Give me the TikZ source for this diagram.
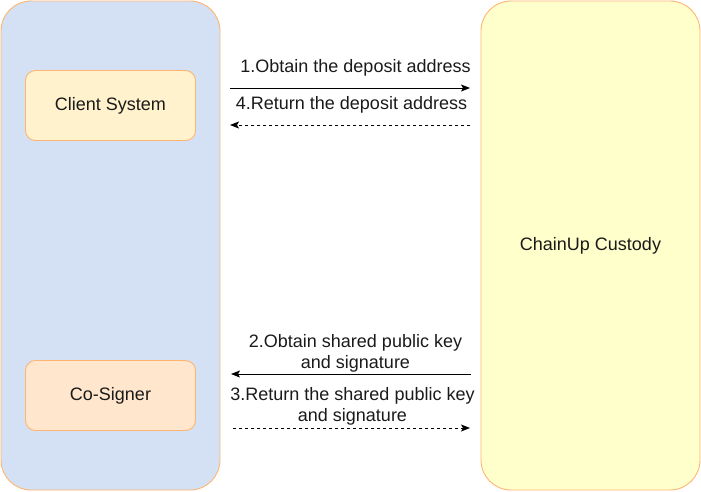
\documentclass[tikz,border=0pt]{standalone}
\usepackage{fontspec}
\setmainfont{Liberation Sans}
\usetikzlibrary{arrows.meta}
\definecolor{lanefill}{HTML}{D4E1F5}
\definecolor{custfill}{HTML}{FFFFCC}
\definecolor{edgeorange}{HTML}{FFB570}
\definecolor{clientfill}{HTML}{FFF2CC}
\definecolor{signerfill}{HTML}{FFE6CC}
\definecolor{txt}{HTML}{1A1A1A}
\tikzset{
  lane/.style={draw=edgeorange, line width=0.9pt, rounded corners=30pt, minimum width=219pt, minimum height=489pt, inner sep=0pt},
  sysbox/.style={draw=edgeorange, line width=0.9pt, rounded corners=10pt, minimum width=170pt, minimum height=70pt, inner sep=0pt, text=txt},
  lbl/.style={text=txt, align=center, inner sep=0pt},
  flow/.style={line width=0.9pt, -{Stealth[length=9pt,width=7pt,inset=2pt]}},
  retflow/.style={flow, dash pattern=on 3pt off 3pt},
  every node/.style={font=\fontsize{18}{21}\selectfont}
}
\begin{document}
\begin{tikzpicture}[x=1pt,y=-1pt]
\useasboundingbox (0,0) rectangle (701,491);
\node[lane, fill=lanefill] (left) at (110.5,245.5) {};
\node[lane, fill=custfill] (cust) at (590.5,245.5) {};
\node[lbl] (custtext) at (590.5,246) {ChainUp Custody};
\node[sysbox, fill=clientfill] (client) at (110.5,105.5) {Client System};
\node[sysbox, fill=signerfill] (signer) at (110.5,395.5) {Co-Signer};
% arrow end points
\coordinate (a1s) at (230,88);   \coordinate (a1e) at (470,88);
\coordinate (a4s) at (470,125);  \coordinate (a4e) at (230,125);
\coordinate (a2s) at (471,374);  \coordinate (a2e) at (231,374);
\coordinate (a3s) at (233,428);  \coordinate (a3e) at (470,428);
\draw[flow] (a1s) -- (a1e);
\draw[retflow] (a4s) -- (a4e);
\draw[flow] (a2s) -- (a2e);
\draw[retflow] (a3s) -- (a3e);
\node[lbl] (l1) at (355.5,68) {1.Obtain the deposit address};
\node[lbl] (l4) at (351.5,104.5) {4.Return the deposit address};
\node[lbl] (l2) at (355.5,353) {2.Obtain shared public key\\and signature};
\node[lbl] (l3) at (352.5,406) {3.Return the shared public key\\and signature};
\end{tikzpicture}
\end{document}
